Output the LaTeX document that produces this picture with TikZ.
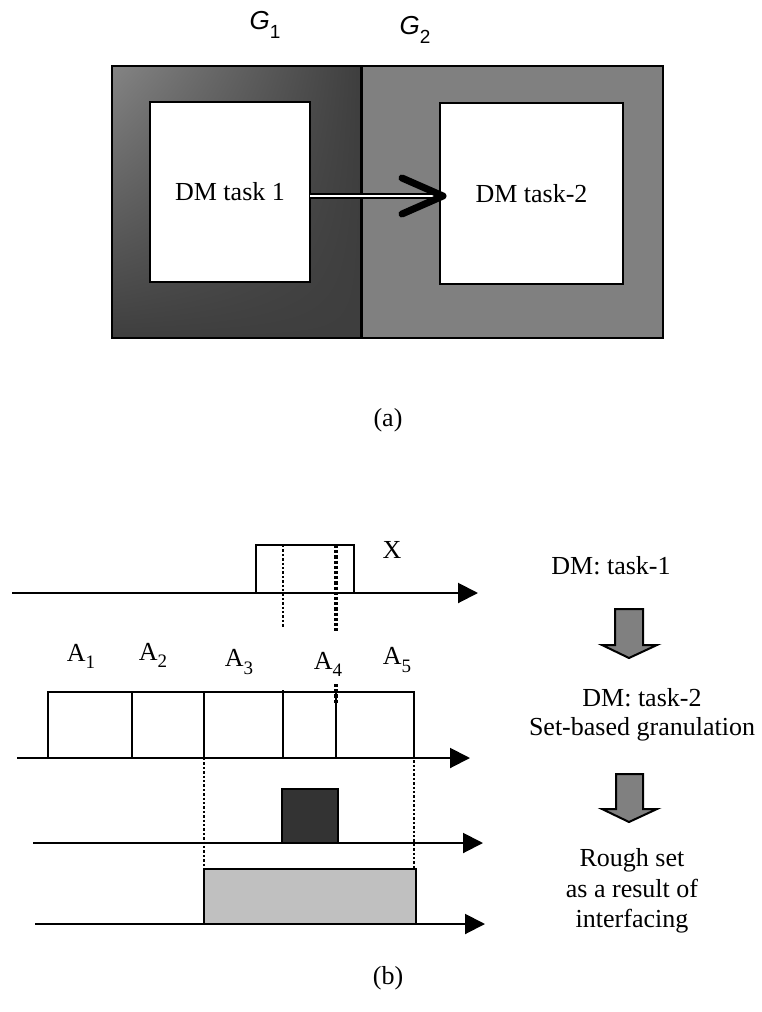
\documentclass[tikz,border=0pt]{standalone}
\usepackage{fontspec}
\setmainfont{Liberation Serif}
\setsansfont{Liberation Sans}
\usetikzlibrary{arrows.meta, calc, shadings}
\definecolor{gone_light}{RGB}{132,132,132}
\definecolor{gone_dark}{RGB}{62,62,62}
\definecolor{gtwo_gray}{RGB}{128,128,128}
\definecolor{core_dark}{RGB}{51,51,51}
\definecolor{rough_gray}{RGB}{192,192,192}
\newcommand{\lowidx}[1]{\raisebox{-0.6ex}{\fontsize{9.5}{9.5}\selectfont #1}}

\begin{document}
\begin{tikzpicture}[x=0.5pt, y=-0.5pt, >={Triangle[length=10pt, width=10pt]},
  every node/.style={inner sep=0pt, outer sep=0pt, font=\fontsize{13}{13}\selectfont},
  frame/.style={draw, line width=1pt, anchor=north west},
  cell/.style={draw, line width=1pt, anchor=south west, fill=white},
  axis/.style={->, line width=1pt},
  guide/.style={densely dotted, line width=1.2pt},
  blockarrow/.style={draw, line width=1pt, fill=gtwo_gray}]
  \useasboundingbox (0,0) rectangle (761,1012);

  % (a) two granular worlds
  \node[frame, minimum width=124.5pt, minimum height=136pt, upper left=gone_light,
    upper right=gone_dark, lower left=gone_dark, lower right=gone_dark] (G1) at (112,66) {};
  \node[frame, fill=gtwo_gray, minimum width=150.5pt, minimum height=136pt] (G2) at (362,66) {};
  \node[frame, fill=white, minimum width=80pt, minimum height=90pt] (in1) at (150,102) {DM task 1};
  \node[frame, fill=white, minimum width=91.5pt, minimum height=90.5pt] (in2) at (440,103) {DM task-2};
  \node (g1) at (265,25) {\sffamily\itshape G\lowidx{\upshape 1}};
  \node (g2) at (415,30) {\sffamily\itshape G\lowidx{\upshape 2}};
  \coordinate (tip) at ([yshift=-2pt]in1.east -| in2.west);
  \draw[double, double distance=1pt, line width=0.8pt] ([yshift=-2pt]in1.east) -- (tip);
  \draw[line width=3.5pt, line cap=round, line join=round] ($(tip)+(-38,-18)$) -- ($(tip)+(3,0)$) -- ($(tip)+(-38,18)$);
  \node (capa) at (388,420) {(a)};

  % (b) interfacing on the axis
  \node[cell, minimum width=49pt, minimum height=24pt] (setX) at (256,593) {};
  \node (lblX) at (392,550) {X};
  \node[cell, minimum width=42pt, minimum height=33pt] (a1) at (48,758) {};
  \node[cell, minimum width=36pt, minimum height=33pt] (a2) at (a1.south east) {};
  \node[cell, minimum width=39.5pt, minimum height=33pt] (a3) at (a2.south east) {};
  \node[cell, minimum width=26.5pt, minimum height=33pt] (a4) at (a3.south east) {};
  \node[cell, minimum width=39pt, minimum height=33pt] (a5) at (a4.south east) {};
  \node (lA1) at (81,656) {A\lowidx{1}};
  \node (lA2) at (153,655) {A\lowidx{2}};
  \node (lA3) at (239,662) {A\lowidx{3}};
  \node (lA4) at (328,664) {A\lowidx{4}};
  \node (lA5) at (397,660) {A\lowidx{5}};
  \node[cell, fill=core_dark, minimum width=28pt, minimum height=27pt] (core) at (282,843) {};
  \node[cell, fill=rough_gray, minimum width=106pt, minimum height=27.5pt] (rough) at (204,924) {};

  \coordinate (ax1a) at (12,593);  \coordinate (ax1b) at (478,593);
  \coordinate (ax2a) at (17,758);  \coordinate (ax2b) at (470,758);
  \coordinate (ax3a) at (33,843);  \coordinate (ax3b) at (483,843);
  \coordinate (ax4a) at (35,924);  \coordinate (ax4b) at (485,924);
  \draw[axis] (ax1a) -- (ax1b);
  \draw[axis] (ax2a) -- (ax2b);
  \draw[axis] (ax3a) -- (ax3b);
  \draw[axis] (ax4a) -- (ax4b);

  \coordinate (gd1) at (283,627);
  \coordinate (gd2) at (336,633);
  \draw[guide] (gd1 |- setX.north) -- (gd1);
  \draw[guide, line width=1.6pt] (gd2 |- setX.north) -- (gd2);
  \draw[guide] ([yshift=1pt]a4.north west) -- ([yshift=-5pt]a4.north west);
  \draw[guide, line width=1.6pt] ([yshift=4pt]a4.north east) -- ([yshift=-6pt]a4.north east);
  \draw[guide] (a3.north west) -- (rough.north west);
  \draw[guide] (a5.east) -- (a5.east |- rough.north);

  % steps on the right
  \node (task1) at (611,566) {DM: task-1};
  \draw[blockarrow] (615,609) -- (643,609) -- (643,645) -- (657,645) -- (629,658) -- (602,645) -- (615,645) -- cycle;
  \node[align=center, font=\fontsize{13}{14.5}\selectfont] (task2) at (642,715) {DM: task-2\\Set-based granulation};
  \draw[blockarrow] (616,774) -- (643,774) -- (643,809) -- (657,809) -- (629,822) -- (602,809) -- (616,809) -- cycle;
  \node[align=center, font=\fontsize{13}{15.25}\selectfont] (rset) at (632,891) {Rough set\\as a result of\\interfacing};
  \node (capb) at (388,978) {(b)};
\end{tikzpicture}
\end{document}
